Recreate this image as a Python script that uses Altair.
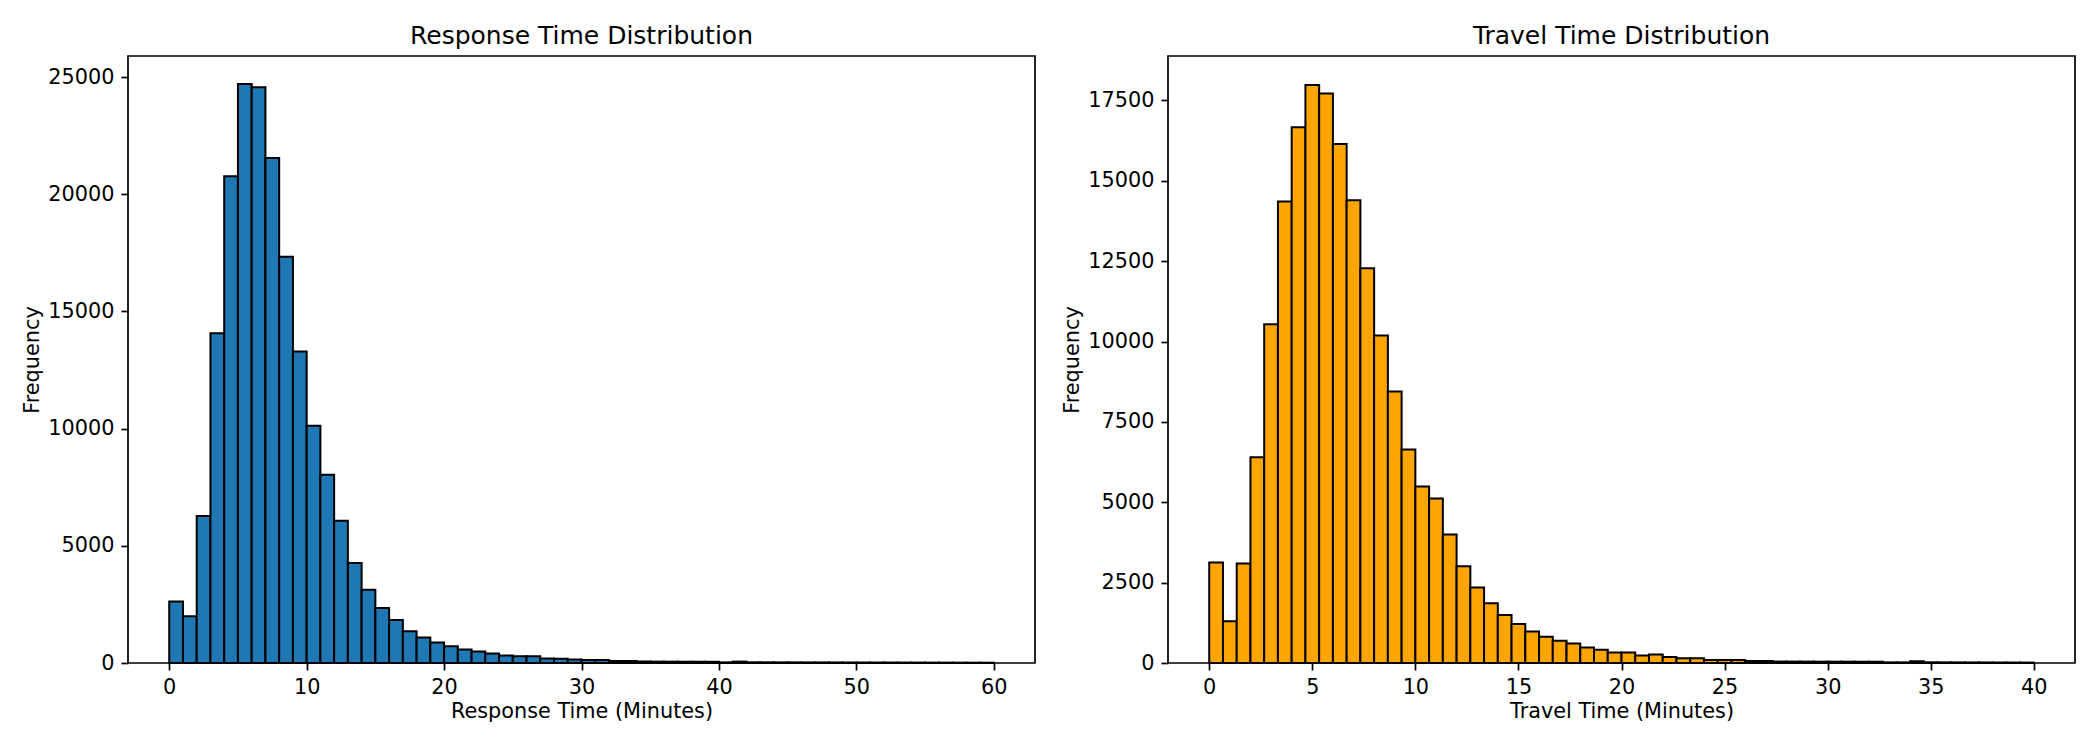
import numpy as np
import pandas as pd
import altair as alt

# Histogram counts (60 bins each)
response_counts = [
    2620, 2000, 6270, 14070, 20770, 24700, 24570, 21550, 17330, 13290,
    10120, 8030, 6070, 4270, 3130, 2350, 1830, 1350, 1090, 880,
    710, 580, 490, 405, 320, 290, 290, 190, 185, 145,
    130, 130, 88, 85, 60, 58, 57, 55, 54, 52,
    28, 60, 30, 29, 28, 27, 26, 25, 24, 23,
    22, 21, 20, 19, 18, 17, 16, 15, 14, 13,
]
travel_counts = [
    3125, 1295, 3095, 6400, 10540, 14360, 16670, 17985, 17720, 16150,
    14400, 12280, 10190, 8450, 6640, 5490, 5120, 4000, 3010, 2350,
    1860, 1490, 1210, 980, 820, 695, 610, 485, 410, 330,
    325, 235, 265, 190, 150, 145, 95, 95, 92, 63,
    62, 45, 44, 43, 42, 42, 41, 40, 40, 20,
    20, 55, 22, 20, 19, 18, 17, 16, 15, 14,
]
response_range = [0, 60]
travel_range = [0, 40]


def hist_frame(counts, lo_hi):
    edges = np.linspace(lo_hi[0], lo_hi[1], len(counts) + 1)
    return pd.DataFrame({'start': edges[:-1], 'end': edges[1:], 'count': counts})


def hist_panel(df, color, title, xtitle, xdomain, xstep, ydomain, ystep):
    return alt.Chart(df, title=title).mark_rect(
        color=color, stroke='black', strokeWidth=2
    ).encode(
        x=alt.X('start:Q', title=xtitle,
                scale=alt.Scale(domain=xdomain, nice=False, zero=False),
                axis=alt.Axis(values=list(range(0, int(xdomain[1]), xstep)), format='d')),
        x2='end:Q',
        y=alt.Y('count:Q', title='Frequency',
                scale=alt.Scale(domain=ydomain, nice=False),
                axis=alt.Axis(values=list(range(0, int(ydomain[1]), ystep)), format='d')),
        y2=alt.datum(0),
    ).properties(width=907, height=607)


left = hist_panel(hist_frame(response_counts, response_range), '#1f77b4',
                  'Response Time Distribution', 'Response Time (Minutes)',
                  [-3, 63], 10, [0, 25900], 5000)
right = hist_panel(hist_frame(travel_counts, travel_range), '#ffa500',
                   'Travel Time Distribution', 'Travel Time (Minutes)',
                   [-2, 42], 5, [0, 18884], 2500)

chart = alt.hconcat(left, right, spacing=24).properties(
    padding={'left': 12, 'top': 15, 'right': 5, 'bottom': 5}
).configure(
    font='DejaVu Sans'
).configure_view(
    stroke='black', strokeWidth=1.7
).configure_axis(
    grid=False, domain=False,
    tickColor='black', tickSize=7, tickWidth=1.7,
    labelColor='black', labelFontSize=20.8, labelPadding=7, labelFont='DejaVu Sans',
    titleColor='black', titleFontSize=20.8, titleFontWeight='normal', titleFont='DejaVu Sans',
    titlePadding=5
).configure_title(
    fontSize=25, fontWeight='normal', color='black', anchor='middle', offset=7,
    font='DejaVu Sans'
)

chart.save("out.html", embed_options={"renderer": "svg", "actions": False})
